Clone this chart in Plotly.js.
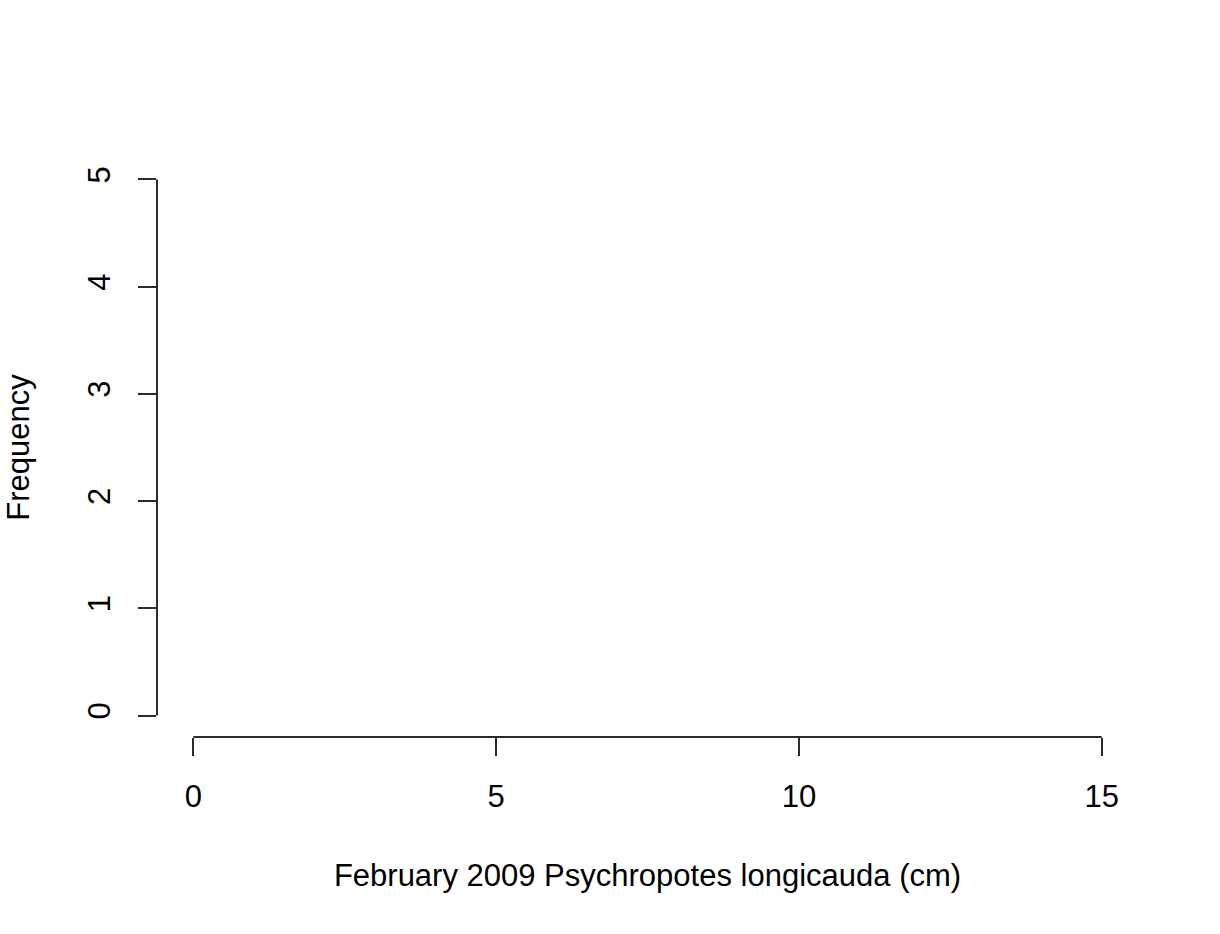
<!DOCTYPE html>
<html>
<head>
<meta charset="utf-8">
<script src="https://cdn.plot.ly/plotly-3.0.1.min.js"></script>
<style>
  html, body { margin: 0; padding: 0; background: white; }
  #chart { width: 1220px; height: 934px; }
</style>
</head>
<body>
<div id="chart"></div>
<script>
// no animals were measured in this month, so the histogram is empty
var lengths = [];
var xTicks = [0, 5, 10, 15];
var yTicks = [0, 1, 2, 3, 4, 5];

var axisColor = "#2b2b2b";
var font = { family: "Liberation Sans, Arial, sans-serif", size: 31, color: "#000" };

var data = [
  {
    type: "histogram",
    x: lengths,
    xbins: { start: 0, end: 15, size: 1 },
    marker: { color: "rgba(0,0,0,0)", line: { color: "#000", width: 1.5 } }
  }
];

var layout = {
  width: 1220,
  height: 934,
  margin: { l: 157, r: 82, t: 158, b: 197 },
  paper_bgcolor: "white",
  plot_bgcolor: "white",
  showlegend: false,
  font: font,
  xaxis: {
    range: [-0.6, 15.6],
    tickvals: xTicks,
    ticks: "outside",
    ticklen: 18,
    tickwidth: 2,
    tickcolor: axisColor,
    ticklabelstandoff: 14,
    showgrid: false,
    zeroline: false,
    showline: false,
    tickfont: font,
    title: { text: "February 2009 Psychropotes longicauda (cm)", font: font, standoff: 51 }
  },
  yaxis: {
    range: [-0.2, 5.2],
    tickvals: yTicks,
    ticks: "outside",
    ticklen: 18,
    tickwidth: 2,
    tickcolor: axisColor,
    tickangle: -90,
    ticklabelstandoff: 16,
    showgrid: false,
    zeroline: false,
    showline: false,
    tickfont: font,
    title: { text: "Frequency", font: font, standoff: 42 }
  },
  shapes: [
    { type: "line", xref: "x", yref: "paper", x0: xTicks[0], x1: xTicks[xTicks.length - 1], y0: 0, y1: 0,
      line: { color: axisColor, width: 2 } },
    { type: "line", xref: "paper", yref: "y", x0: 0, x1: 0, y0: yTicks[0], y1: yTicks[yTicks.length - 1],
      line: { color: axisColor, width: 2 } }
  ]
};

Plotly.newPlot("chart", data, layout, { displayModeBar: false, staticPlot: true });
</script>
</body>
</html>
